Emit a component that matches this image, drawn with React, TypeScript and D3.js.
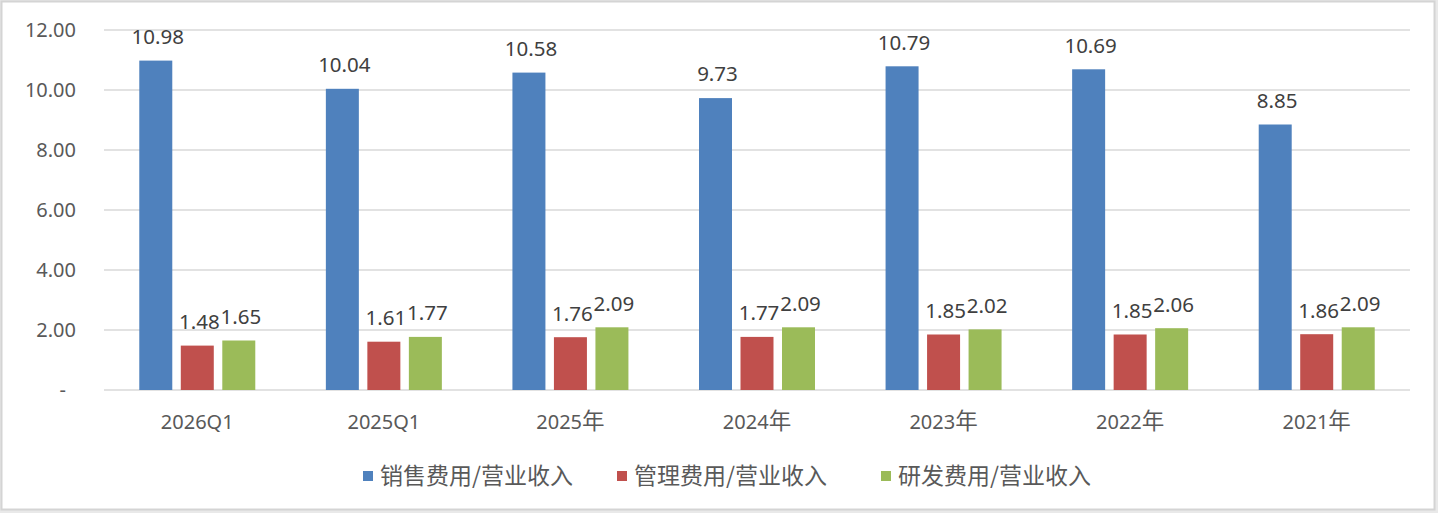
import React from 'react';
import * as d3 from 'd3';

// Chart data
const categories = ['2026Q1', '2025Q1', '2025年', '2024年', '2023年', '2022年', '2021年'];
const seriesNames = ['销售费用/营业收入', '管理费用/营业收入', '研发费用/营业收入'];
const salesRatio = [10.98, 10.04, 10.58, 9.73, 10.79, 10.69, 8.85];
const adminRatio = [1.48, 1.61, 1.76, 1.77, 1.85, 1.85, 1.86];
const rdRatio = [1.65, 1.77, 2.09, 2.09, 2.02, 2.06, 2.09];
const yTicks = [0, 2, 4, 6, 8, 10, 12];

const seriesValues = [salesRatio, adminRatio, rdRatio];
const colors = ['#4F81BD', '#C0504D', '#9BBB59'];

const W = 1438;
const H = 513;
const plot = { left: 104, right: 1410, top: 30, bottom: 390 };
const latinFont = "'Noto Sans', 'Noto Sans CJK SC', sans-serif";
const cjkFont = "'Noto Sans CJK SC', sans-serif";
const legendX = [363, 617, 881];

const App = () => {
  const x0 = d3.scaleBand<string>().domain(categories).range([plot.left, plot.right]).padding(0);
  const groupWidth = 116;
  const x1 = d3
    .scaleBand<number>()
    .domain([0, 1, 2])
    .range([0, groupWidth])
    .paddingInner(0.205)
    .paddingOuter(0);
  const y = d3.scaleLinear().domain([0, 12]).range([plot.bottom, plot.top]);
  const fmt = d3.format('.2f');

  const groupStart = (c: string) => (x0(c) ?? 0) + (x0.bandwidth() - groupWidth) / 2;

  // split "2025年" into latin part and CJK part
  const splitLabel = (s: string) => {
    const m = s.match(/^([0-9A-Za-z]+)(.*)$/);
    return m ? [m[1], m[2]] : [s, ''];
  };

  return (
    <div style={{ position: 'absolute', left: 0, top: 0 }}>
      <svg width={W} height={H} style={{ display: 'block' }}>
        <rect x={0} y={0} width={W} height={H} fill="#e9e9e9" />
        <rect x={1.5} y={1.5} width={1433} height={508} fill="#ffffff" stroke="#d4d4d4" strokeWidth={2} />

        {/* horizontal gridlines */}
        {yTicks.map((t) => (
          <line
            key={'g' + t}
            x1={plot.left}
            x2={plot.right}
            y1={y(t)}
            y2={y(t)}
            stroke="#d9d9d9"
            strokeWidth={1.5}
          />
        ))}

        {/* y axis labels */}
        {yTicks.map((t) => (
          <text
            key={'y' + t}
            x={t === 0 ? 66 : 76}
            y={y(t)}
            dy="0.36em"
            textAnchor="end"
            fontFamily={latinFont}
            fontSize={20}
            fill="#595959"
          >
            {t === 0 ? '-' : fmt(t)}
          </text>
        ))}

        {/* bars */}
        {seriesValues.map((vals, si) =>
          vals.map((v, ci) => (
            <rect
              key={`b${si}-${ci}`}
              x={groupStart(categories[ci]) + (x1(si) ?? 0)}
              y={y(v)}
              width={x1.bandwidth()}
              height={y(0) - y(v)}
              fill={colors[si]}
            />
          ))
        )}

        {/* data labels */}
        {seriesValues.map((vals, si) =>
          vals.map((v, ci) => (
            <text
              key={`l${si}-${ci}`}
              x={groupStart(categories[ci]) + (x1(si) ?? 0) + x1.bandwidth() / 2 + 2}
              y={y(v) - 24}
              dy="0.36em"
              textAnchor="middle"
              fontFamily={latinFont}
              fontSize={20.5}
              fill="#404040"
            >
              {fmt(v)}
            </text>
          ))
        )}

        {/* x axis labels */}
        {categories.map((c) => {
          const [a, b] = splitLabel(c);
          return (
            <text
              key={'x' + c}
              x={(x0(c) ?? 0) + x0.bandwidth() / 2}
              y={422}
              dy="0.36em"
              textAnchor="middle"
              fontFamily={latinFont}
              fontSize={20}
              fill="#595959"
            >
              {a}
              {b && (
                <tspan fontFamily={cjkFont} fontSize={22.5}>
                  {b}
                </tspan>
              )}
            </text>
          );
        })}

        {/* legend */}
        {seriesNames.map((name, i) => (
          <g key={'lg' + i} transform={`translate(${legendX[i]},476)`}>
            <rect x={0} y={-5} width={10} height={10} fill={colors[i]} />
            <text x={17} y={0} dy="0.36em" fontFamily={cjkFont} fontSize={23} fill="#595959">
              {name}
            </text>
          </g>
        ))}
      </svg>
    </div>
  );
};

export default App;
